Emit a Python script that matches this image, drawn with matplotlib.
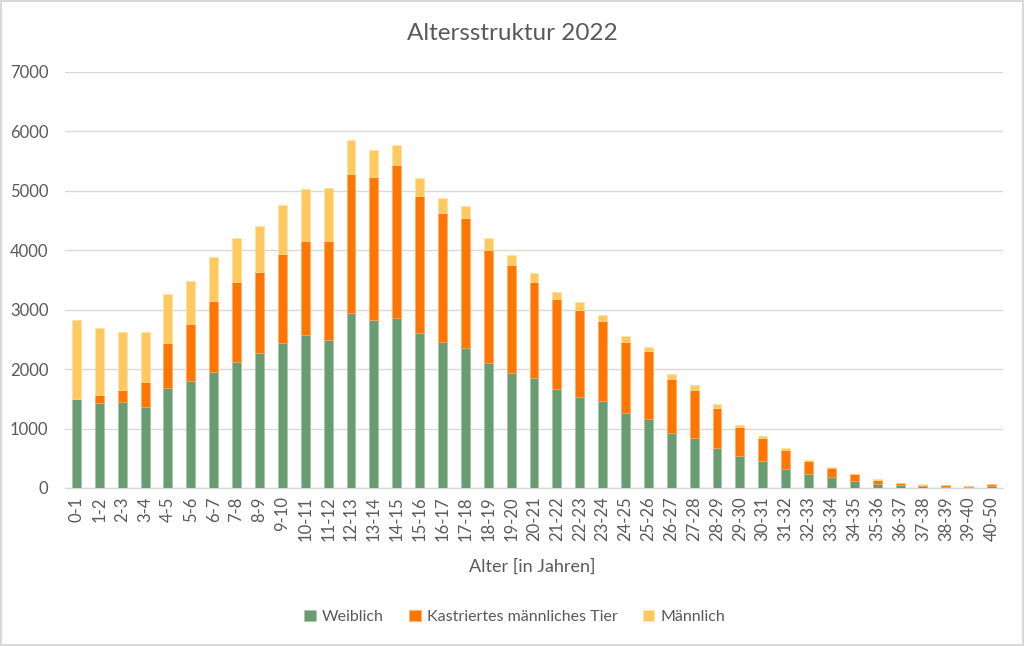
import matplotlib
matplotlib.use("Agg")
import matplotlib.pyplot as plt
import numpy as np

# age classes and stacked counts
alter = ["0-1", "1-2", "2-3", "3-4", "4-5", "5-6", "6-7", "7-8", "8-9", "9-10",
         "10-11", "11-12", "12-13", "13-14", "14-15", "15-16", "16-17", "17-18",
         "18-19", "19-20", "20-21", "21-22", "22-23", "23-24", "24-25", "25-26",
         "26-27", "27-28", "28-29", "29-30", "30-31", "31-32", "32-33", "33-34",
         "34-35", "35-36", "36-37", "37-38", "38-39", "39-40", "40-50"]

weiblich = [1494, 1427, 1444, 1365, 1685, 1803, 1944, 2112, 2264, 2433,
            2567, 2489, 2938, 2831, 2854, 2612, 2449, 2354, 2096, 1927,
            1854, 1669, 1539, 1466, 1258, 1160, 930, 848, 680, 534,
            449, 326, 236, 180, 118, 67, 45, 34, 22, 11, 34]

kastriert = [11, 135, 213, 427, 748, 955, 1202, 1349, 1371, 1500,
             1585, 1668, 2354, 2405, 2579, 2309, 2175, 2185, 1904, 1820,
             1607, 1505, 1455, 1337, 1191, 1152, 910, 804, 668, 494,
             388, 320, 219, 163, 112, 73, 39, 22, 23, 17, 28]

maennlich = [1326, 1129, 972, 832, 825, 731, 747, 747, 781, 831,
             887, 888, 568, 444, 331, 287, 264, 208, 208, 180,
             163, 124, 141, 113, 113, 67, 73, 73, 62, 39,
             34, 23, 17, 11, 6, 12, 6, 6, 5, 2, 5]

c_w = "#699D71"
c_k = "#FF7700"
c_m = "#FFC95F"
grau = "#595959"

fig = plt.figure(figsize=(10.24, 6.46), dpi=100)
ax = fig.add_axes([65/1024, 1 - 488/646, (1003-65)/1024, (488-72)/646])

x = np.arange(len(alter))
w = 0.39
w_arr = np.array(weiblich)
k_arr = np.array(kastriert)
m_arr = np.array(maennlich)

ax.bar(x, w_arr, w, color=c_w, edgecolor="#9fc3a5", linewidth=0.4, label="Weiblich", zorder=3)
ax.bar(x, k_arr, w, bottom=w_arr, color=c_k, edgecolor="#ffa860", linewidth=0.4,
       label="Kastriertes männliches Tier", zorder=3)
ax.bar(x, m_arr, w, bottom=w_arr + k_arr, color=c_m, edgecolor="#ffe0a0", linewidth=0.4,
       label="Männlich", zorder=3)

ax.set_xlim(-0.5, len(alter) - 0.5)
ax.set_ylim(0, 7000)
ax.set_yticks(range(0, 7001, 1000))
ax.yaxis.grid(True, color="#d9d9d9", linewidth=1, zorder=0)
ax.set_axisbelow(True)
for s in ["top", "right", "left"]:
    ax.spines[s].set_visible(False)
ax.spines["bottom"].set_color("#d9d9d9")
ax.spines["bottom"].set_linewidth(1)

ax.set_xticks(x)
ax.set_xticklabels(alter, rotation=90, fontsize=12, color=grau, family="Lato")
ax.tick_params(axis="x", length=0, pad=6)
ax.tick_params(axis="y", length=0, pad=12, labelsize=12, labelcolor=grau)
for t in ax.get_yticklabels():
    t.set_family("Lato")

fig.text(512/1024, 1 - 33/646, "Altersstruktur 2022", ha="center", va="center",
         fontsize=17.5, color=grau, family="Lato")
fig.text(532/1024, 1 - 567/646, "Alter [in Jahren]", ha="center", va="center",
         fontsize=13, color=grau, family="Lato")

leg = fig.legend(loc="center", bbox_to_anchor=(515/1024, 1 - 617/646), ncol=3,
                 frameon=False, handlelength=0.7, handleheight=0.7,
                 handletextpad=0.4, columnspacing=1.6, prop={"family": "Lato", "size": 11.5})
for t in leg.get_texts():
    t.set_color(grau)

# light border around the chart like the excel export
fig.patches.append(plt.Rectangle((0.001, 0.001), 0.998, 0.997, transform=fig.transFigure,
                                 fill=False, edgecolor="#d9d9d9", linewidth=1.5))

fig.savefig("out.png", dpi=100)
